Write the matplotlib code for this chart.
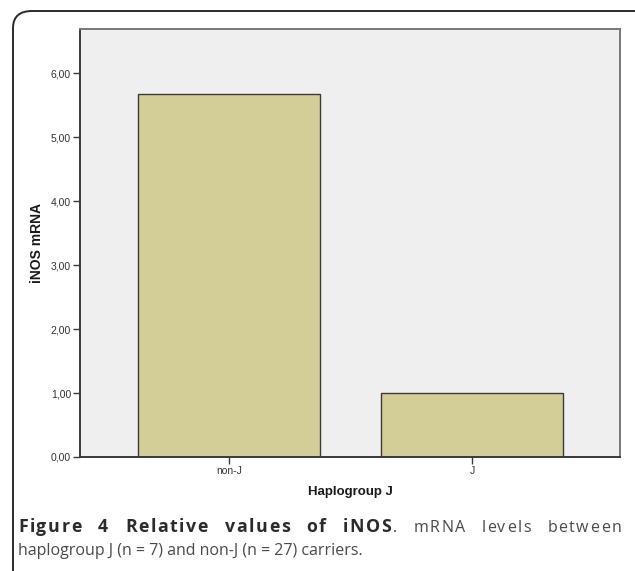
import matplotlib
matplotlib.use("Agg")
import matplotlib.pyplot as plt
from matplotlib.patches import FancyBboxPatch

categories = ["non-J", "J"]
values = [5.68, 1.00]
yticks = [0.0, 1.0, 2.0, 3.0, 4.0, 5.0, 6.0]
ytick_labels = ["0,00", "1,00", "2,00", "3,00", "4,00", "5,00", "6,00"]

W, H = 635, 571
fig = plt.figure(figsize=(W / 100, H / 100), dpi=100)

# outer rounded frame (bottom runs off the figure)
frame = FancyBboxPatch((13 / W, -0.2), (633 - 13) / W + 0.05, (571 - 11) / H + 0.2,
                       boxstyle="round,pad=0,rounding_size=0.03",
                       transform=fig.transFigure, fill=False,
                       edgecolor="#2a2a2a", linewidth=1.4, clip_on=False)
fig.patches.append(frame)

left, right, top, bottom = 80, 620, 29, 457
ax = fig.add_axes([left / W, 1 - bottom / H, (right - left) / W, (bottom - top) / H])
ax.set_facecolor("#efefef")

x = list(range(len(categories)))
ax.bar(x, values, width=0.75, color="#d3ce98", edgecolor="#3a3a3a", linewidth=1.0, zorder=2)

ax.set_xlim(-0.613, 1.609)
ax.set_ylim(0, 6.69)
ax.set_yticks(yticks)
ax.set_yticklabels(ytick_labels)
ax.set_xticks(x)
ax.set_xticklabels(categories)

for s in ["left", "bottom"]:
    ax.spines[s].set_color("#3a3a3a")
    ax.spines[s].set_linewidth(1.4)
for s in ["top", "right"]:
    ax.spines[s].set_color("#777777")
    ax.spines[s].set_linewidth(1.4)

ax.tick_params(axis="both", direction="out", length=5, width=1.0, color="#3a3a3a",
               labelsize=7.5, labelcolor="#333333", pad=1.5)
for lab in ax.get_xticklabels() + ax.get_yticklabels():
    lab.set_family(["Liberation Sans", "DejaVu Sans"])

ax.set_ylabel("iNOS mRNA", fontsize=10, fontweight="bold", family=["Liberation Sans", "DejaVu Sans"],
              color="#1a1a1a", labelpad=5)
ax.set_xlabel("Haplogroup J", fontsize=9.5, fontweight="bold", family=["Liberation Sans", "DejaVu Sans"],
              color="#1a1a1a", labelpad=7)

# caption; first line justified with letter + word spacing
cap_font = ["Open Sans", "DejaVu Sans"]
sizes = {"bold": 12.8, "normal": 11.5}
renderer = fig.canvas.get_renderer()
y1 = 1 - 532 / H
y2 = 1 - 555 / H
xl, xr = 18, 621
colors = {"bold": "#2b2b2b", "normal": "#4a4a4a"}

segments = [("Figure 4 Relative values of iNOS", "bold"), (". mRNA levels between", "normal")]


def text_width(s, wt):
    t = fig.text(0, 0, s, fontsize=sizes[wt], fontweight=wt, family=cap_font)
    w = t.get_window_extent(renderer).width
    t.remove()
    return w


chars = []
for s, wt in segments:
    space_w = text_width("a a", wt) - text_width("aa", wt)
    for ch in s:
        w = space_w if ch == " " else text_width(ch, wt)
        chars.append((ch, wt, w))
natural = sum(c[2] for c in chars)
n_space = sum(1 for c in chars if c[0] == " ")
n_gaps = len(chars) - 1
word_factor = 7.0
units = (n_gaps - n_space) + n_space * word_factor
e = (xr - xl - natural) / units
px = xl
for ch, wt, w in chars:
    if ch != " ":
        fig.text(px / W, y1, ch, fontsize=sizes[wt], fontweight=wt, family=cap_font,
                 color=colors[wt], va="baseline", ha="left")
        px += w + e
    else:
        px += w + e * word_factor

fig.text(xl / W, y2, "haplogroup J (n = 7) and non-J (n = 27) carriers.", fontsize=sizes["normal"],
         family=cap_font, color=colors["normal"], va="baseline", ha="left")

fig.savefig("out.png", dpi=100)
